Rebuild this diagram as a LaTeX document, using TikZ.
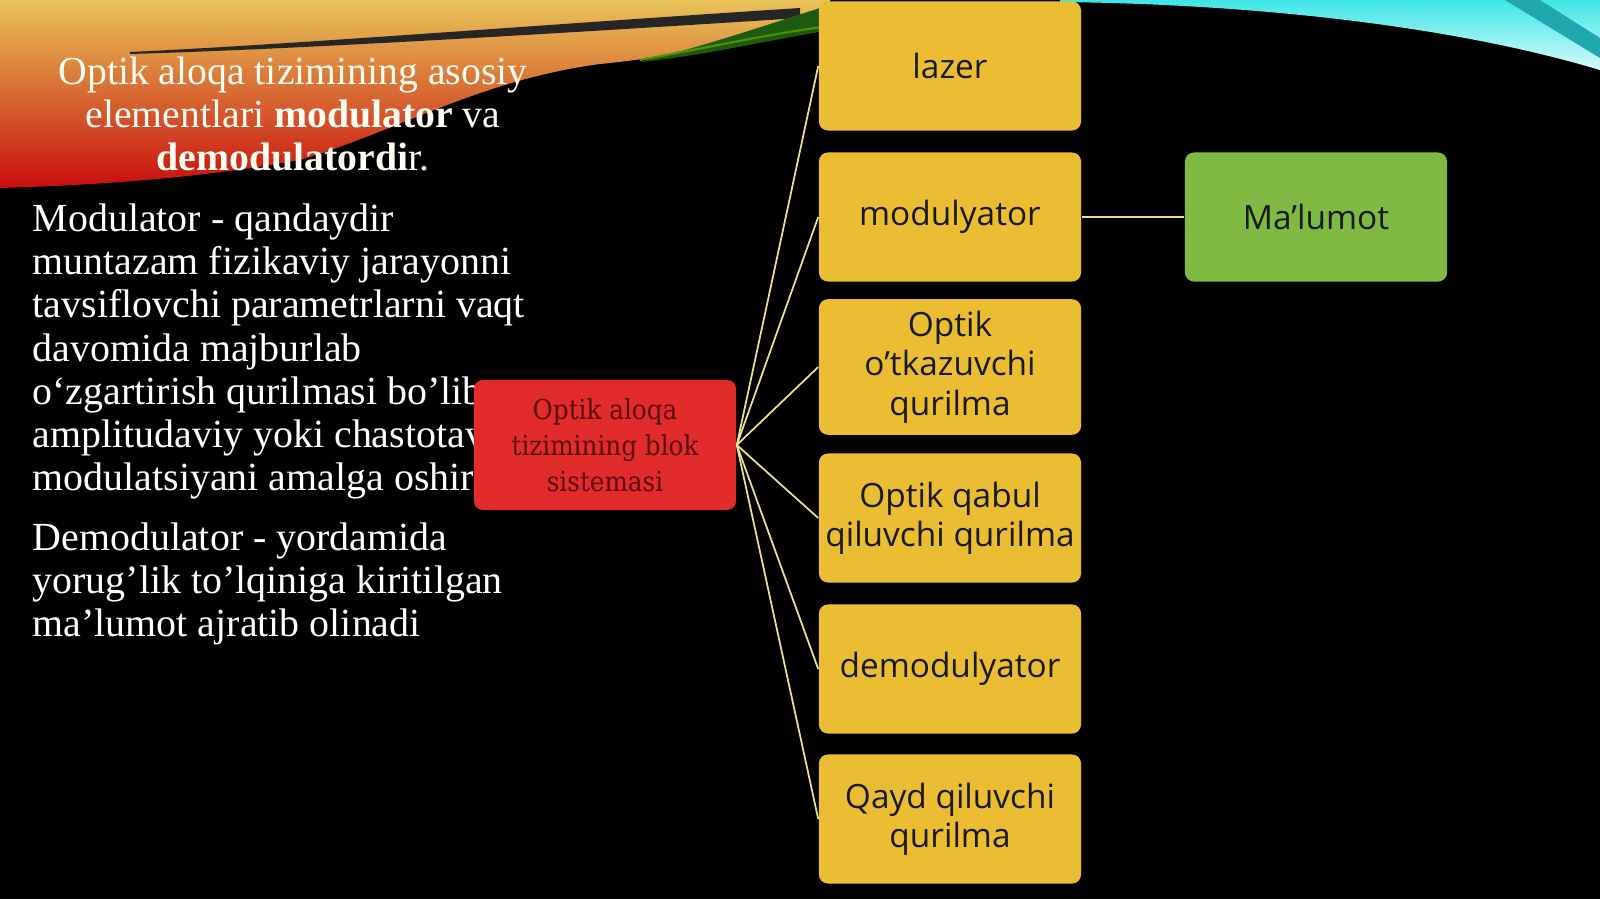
\documentclass[tikz,border=0pt]{standalone}
\usepackage{fontspec}
\setmainfont{Liberation Serif}
\newfontfamily\boxfont{Open Sans}
\newfontfamily\blkfont{DejaVu Serif Condensed}
\usetikzlibrary{calc}

\definecolor{partyellow}{HTML}{EBBD33}
\definecolor{infogreen}{HTML}{7FBA42}
\definecolor{blkred}{HTML}{E22B2B}
\definecolor{blktext}{HTML}{5A0C0C}
\definecolor{linkyellow}{HTML}{EDE08C}
\definecolor{swooshtop}{HTML}{E8C458}
\definecolor{swooshmid}{HTML}{E07A1E}
\definecolor{swooshbot}{HTML}{C80E0E}
\definecolor{leafgreen}{HTML}{1E5A12}
\definecolor{skycyan}{HTML}{3EE6E6}
\definecolor{skylight}{HTML}{D8FAFA}
\definecolor{skyteal}{HTML}{1FA8B0}

\begin{document}
\begin{tikzpicture}[x=0.01cm, y=-0.01cm,
  part/.style={fill=partyellow, rounded corners=0.09cm, minimum width=2.62cm,
    minimum height=1.29cm, inner xsep=1pt, align=center, text=black!90,
    font=\boxfont\fontsize{9.5}{11.2}\selectfont},
  info/.style={part, fill=infogreen},
  blk/.style={fill=blkred, rounded corners=0.09cm, minimum width=2.62cm,
    minimum height=1.3cm, align=center, text=blktext,
    font=\blkfont\fontsize{7.8}{10.2}\selectfont},
  link/.style={draw=linkyellow, line width=0.5pt},
  body/.style={anchor=north west, inner sep=0pt, align=left, text=white,
    font=\fontsize{11.35}{12.3}\selectfont}]
  \useasboundingbox (0,0) rectangle (1600,899);
  \fill[black] (0,0) rectangle (1600,899);

  % fon: chap yuqori chiziq
  \shade[top color=swooshtop, middle color=swooshmid, bottom color=swooshbot]
    (0,0) -- (830,0) -- (830,22) .. controls (760,36) and (700,54) .. (600,64)
    .. controls (480,80) and (400,130) .. (300,160)
    .. controls (200,178) and (100,185) .. (0,188) -- cycle;
  \fill[black!85] (130,52) .. controls (300,44) and (550,24) .. (800,8)
    -- (800,18) .. controls (550,34) and (300,49) .. (130,54) -- cycle;
  \fill[leafgreen] (640,62) .. controls (720,42) and (780,20) .. (830,5)
    -- (830,30) .. controls (760,42) and (700,56) .. (640,62) -- cycle;
  \draw[green!40!black!70!yellow, line width=0.6pt]
    (640,60) .. controls (720,45) and (780,32) .. (830,26);
  % fon: o'ng yuqori chiziq
  \shade[top color=skycyan, bottom color=skylight]
    (1060,0) -- (1600,0) -- (1600,70)
    .. controls (1450,25) and (1250,4) .. (1060,2) -- cycle;
  \fill[skyteal] (1505,0) -- (1540,0) -- (1600,38) -- (1600,58) -- cycle;

  % sarlavha
  \node[align=center, text=white!95!yellow, inner sep=0pt,
    font=\fontsize{11.3}{12.3}\selectfont] (ttl) at (293,114)
    {Optik aloqa tizimining asosiy\\ elementlari \textbf{modulator} va\\
     \textbf{demodulatordi}r.};

  % matn
  \node[body] (txa) at (32,203)
    {Modulator - qandaydir\\ muntazam fizikaviy jarayonni\\
     tavsiflovchi parametrlarni vaqt\\ davomida majburlab\\
     o‘zgartirish qurilmasi bo’lib\\ amplitudaviy yoki chastotaviy\\
     modulatsiyani amalga oshiradi};
  \node[body] (txb) at (32,522)
    {Demodulator - yordamida\\ yorug’lik to’lqiniga kiritilgan\\
     ma’lumot ajratib olinadi};

  % blok sxema
  \node[blk] (blk) at (605,445) {Optik aloqa\\ tizimining blok\\ sistemasi};

  \node[part] (laz) at (950,66)  {lazer};
  \node[part] (mdl) at (950,217) {modulyator};
  \node[part] (otk) at (950,367) {Optik\\ o’tkazuvchi\\ qurilma};
  \node[part] (qab) at (950,518) {Optik qabul\\ qiluvchi qurilma};
  \node[part] (dmd) at (950,669) {demodulyator};
  \node[part] (qyd) at (950,819) {Qayd qiluvchi\\ qurilma};
  \node[info] (mal) at (1316,217) {Ma’lumot};

  \draw[link] (blk.east) -- (laz.west);
  \draw[link] (blk.east) -- (mdl.west);
  \draw[link] (blk.east) -- (otk.west);
  \draw[link] (blk.east) -- (qab.west);
  \draw[link] (blk.east) -- (dmd.west);
  \draw[link] (blk.east) -- (qyd.west);
  \draw[link] (mdl.east) -- (mal.west);
\end{tikzpicture}
\end{document}
